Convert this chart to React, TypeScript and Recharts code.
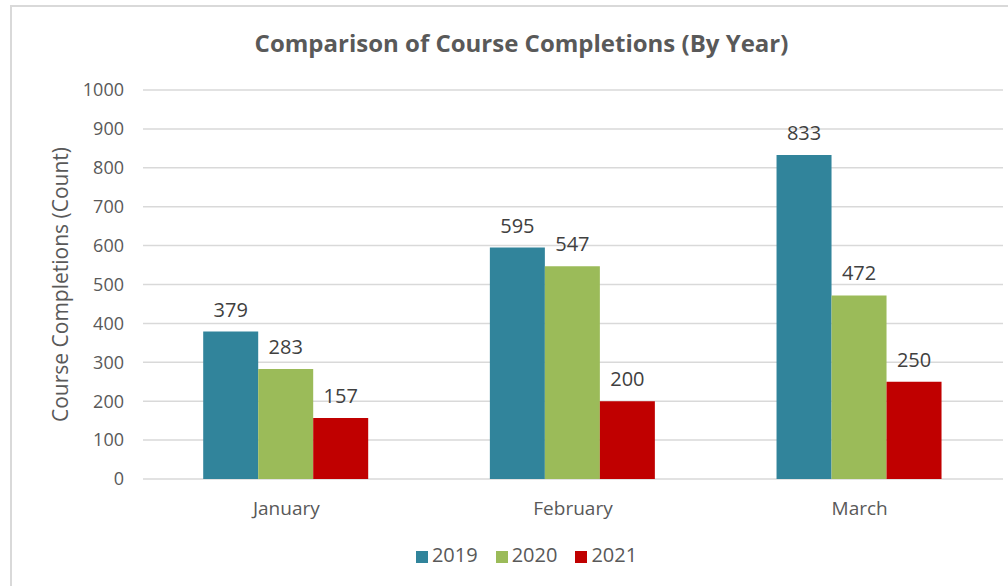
import { Bar, BarChart, CartesianGrid, LabelList, Legend, XAxis, YAxis } from 'recharts';

const months = ['January', 'February', 'March'];
const completions2019 = [379, 595, 833];
const completions2020 = [283, 547, 472];
const completions2021 = [157, 200, 250];
const yTicks = [0, 100, 200, 300, 400, 500, 600, 700, 800, 900, 1000];

const colors = { y2019: '#31849B', y2020: '#9BBB59', y2021: '#C00000' };
const textColor = '#595959';
const font = '"Open Sans", sans-serif';

const data = months.map((m, i) => ({
  month: m,
  '2019': completions2019[i],
  '2020': completions2020[i],
  '2021': completions2021[i],
}));

export default function App() {
  return (
    <div style={{ position: 'absolute', left: 0, top: 0, width: 1008, height: 586, overflow: 'hidden', background: '#fff', fontFamily: font }}>
      {/* chart frame */}
      <div style={{ position: 'absolute', left: 10, top: 5, width: 1100, height: 700, borderLeft: '2px solid #d9d9d9', borderTop: '2px solid #d9d9d9' }} />
      <div style={{ position: 'absolute', left: 0, width: 1043, top: 26, textAlign: 'center', fontSize: 24, fontWeight: 700, color: textColor }}>
        Comparison of Course Completions (By Year)
      </div>
      <div style={{ position: 'absolute', left: 0, top: 0 }}>
        <BarChart width={1008} height={586} data={data} margin={{ top: 90, right: 5, left: 0, bottom: 18 }} barCategoryGap="21%" barGap={0}>
          <CartesianGrid vertical={false} stroke="#d9d9d9" strokeWidth={1.5} />
          <XAxis
            dataKey="month"
            height={62}
            axisLine={false}
            tickLine={false}
            tickMargin={17}
            tick={{ fontSize: 19, fill: textColor, fontFamily: font }}
          />
          <YAxis
            width={143}
            domain={[0, 1000]}
            ticks={yTicks}
            interval={0}
            axisLine={false}
            tickLine={false}
            tickMargin={13}
            tick={{ fontSize: 18, fill: textColor, fontFamily: font }}
            label={{
              content: ({ viewBox }: any) => {
                const cx = 60;
                const cy = viewBox.y + viewBox.height / 2;
                return (
                  <text x={cx} y={cy} transform={`rotate(-90, ${cx}, ${cy})`} textAnchor="middle" dominantBaseline="central" fontSize={21} fill={textColor} fontFamily={font}>
                    Course Completions (Count)
                  </text>
                );
              },
            }}
          />
          <Legend
            verticalAlign="bottom"
            iconType="square"
            iconSize={12}
            wrapperStyle={{ left: 0, width: 1071, fontSize: 20, fontFamily: font }}
            formatter={(v: string) => <span style={{ color: textColor, paddingRight: 8 }}>{v}</span>}
          />
          <Bar dataKey="2019" fill={colors.y2019} isAnimationActive={false}>
            <LabelList dataKey="2019" position="top" offset={15} fill="#404040" fontSize={20} fontFamily={font} />
          </Bar>
          <Bar dataKey="2020" fill={colors.y2020} isAnimationActive={false}>
            <LabelList dataKey="2020" position="top" offset={15} fill="#404040" fontSize={20} fontFamily={font} />
          </Bar>
          <Bar dataKey="2021" fill={colors.y2021} isAnimationActive={false}>
            <LabelList dataKey="2021" position="top" offset={15} fill="#404040" fontSize={20} fontFamily={font} />
          </Bar>
        </BarChart>
      </div>
    </div>
  );
}
